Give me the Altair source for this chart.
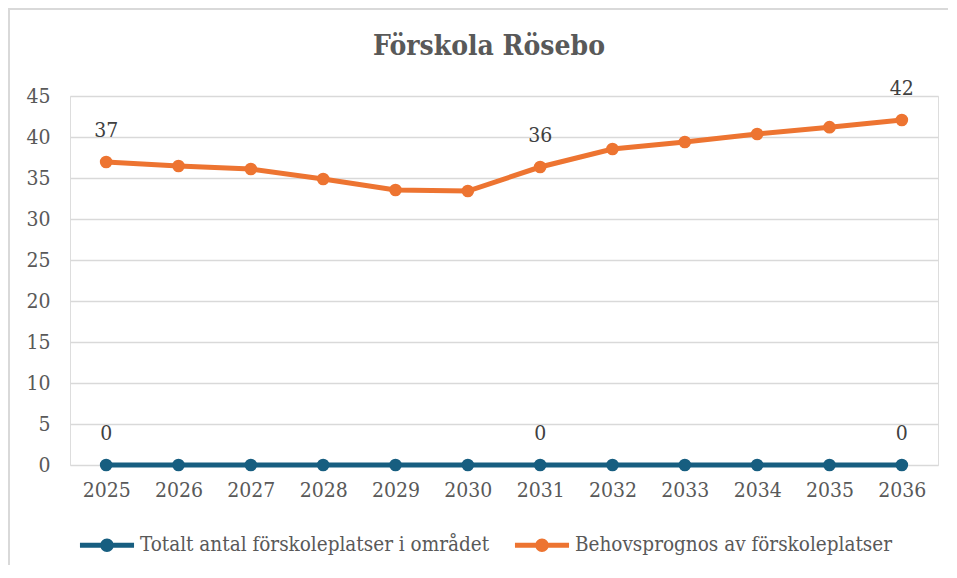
import altair as alt
import pandas as pd

years = [2025, 2026, 2027, 2028, 2029, 2030, 2031, 2032, 2033, 2034, 2035, 2036]
totalt = [0, 0, 0, 0, 0, 0, 0, 0, 0, 0, 0, 0]
behov = [36.95, 36.46, 36.1, 34.88, 33.54, 33.41, 36.34, 38.54, 39.39, 40.37, 41.2, 42.07]
labelled_years = [2025, 2031, 2036]
title_text = "Förskola Rösebo"

series_names = ["Totalt antal förskoleplatser i området", "Behovsprognos av förskoleplatser"]
series_colors = ["#175E80", "#ED7431"]
y_ticks = [0, 5, 10, 15, 20, 25, 30, 35, 40, 45]

rows = []
for name, vals in zip(series_names, [totalt, behov]):
    for yr, v in zip(years, vals):
        rows.append({"year": str(yr), "value": v, "series": name,
                     "label": str(int(round(v))) if yr in labelled_years else ""})
df = pd.DataFrame(rows)

FONT = "DejaVu Serif Condensed"
FS = 21
TXT = "#595959"

sym_path = ("M-2.08,-0.19L-0.42,-0.19L-0.42,0.19L-2.08,0.19Z "
            "M0.42,-0.19L2.08,-0.19L2.08,0.19L0.42,0.19Z "
            "M-0.52,0A0.52,0.52,0,1,1,0.52,0A0.52,0.52,0,1,1,-0.52,0Z")

x_enc = alt.X("year:O", title=None,
              axis=alt.Axis(labelAngle=0, labelFont=FONT, labelFontSize=FS, labelColor=TXT,
                            labelPadding=14, domain=False, ticks=False, grid=False))
y_enc = alt.Y("value:Q", title=None,
              scale=alt.Scale(domain=[0, 45], nice=False),
              axis=alt.Axis(values=y_ticks, labelFont=FONT, labelFontSize=FS, labelColor=TXT,
                            labelPadding=20, domain=False, ticks=False, grid=True,
                            gridColor="#D9D9D9", gridWidth=1.5))
legend = alt.Legend(orient="none", legendX=24, legendY=436, direction="horizontal",
                    symbolType=sym_path, symbolSize=676, symbolStrokeWidth=0,
                    symbolOpacity=1, labelFont=FONT, labelFontSize=20.5,
                    labelColor=TXT, labelOffset=20, columnPadding=24,
                    padding=0, labelLimit=500)
color_enc = alt.Color("series:N", title=None,
                      scale=alt.Scale(domain=series_names, range=series_colors),
                      legend=legend)

base = alt.Chart(df)

line = base.mark_line(strokeWidth=5, strokeCap="round").encode(x=x_enc, y=y_enc, color=color_enc)
points = base.mark_point(filled=True, size=160, opacity=1).encode(x=x_enc, y=y_enc, color=color_enc)
labels = base.mark_text(font=FONT, fontSize=FS, color="#404040", baseline="middle", dy=-31).encode(
    x=x_enc, y=y_enc, text="label:N")

one = pd.DataFrame({"a": [0]})
frame_top = alt.Chart(one).mark_rect(color="#D9D9D9").encode(
    x=alt.value(-62), x2=alt.value(878), y=alt.value(-88), y2=alt.value(-86))
frame_left = alt.Chart(one).mark_rect(color="#D9D9D9").encode(
    x=alt.value(-62), x2=alt.value(-60), y=alt.value(-88), y2=alt.value(470))

title = alt.Chart(pd.DataFrame({"t": [title_text]})).mark_text(
    font=FONT, fontSize=28, fontWeight="bold", color=TXT, align="center", baseline="alphabetic"
).encode(text="t:N", x=alt.value(419), y=alt.value(-41))

chart = alt.layer(frame_top, frame_left, line, points, labels, title).properties(
    width=868, height=369,
    autosize=alt.AutoSizeParams(type="none"),
    padding={"left": 62, "top": 88, "right": 11, "bottom": 100},
).configure_view(stroke=None).configure(background="white")

chart.save("out.html", embed_options={"renderer": "svg", "actions": False})
